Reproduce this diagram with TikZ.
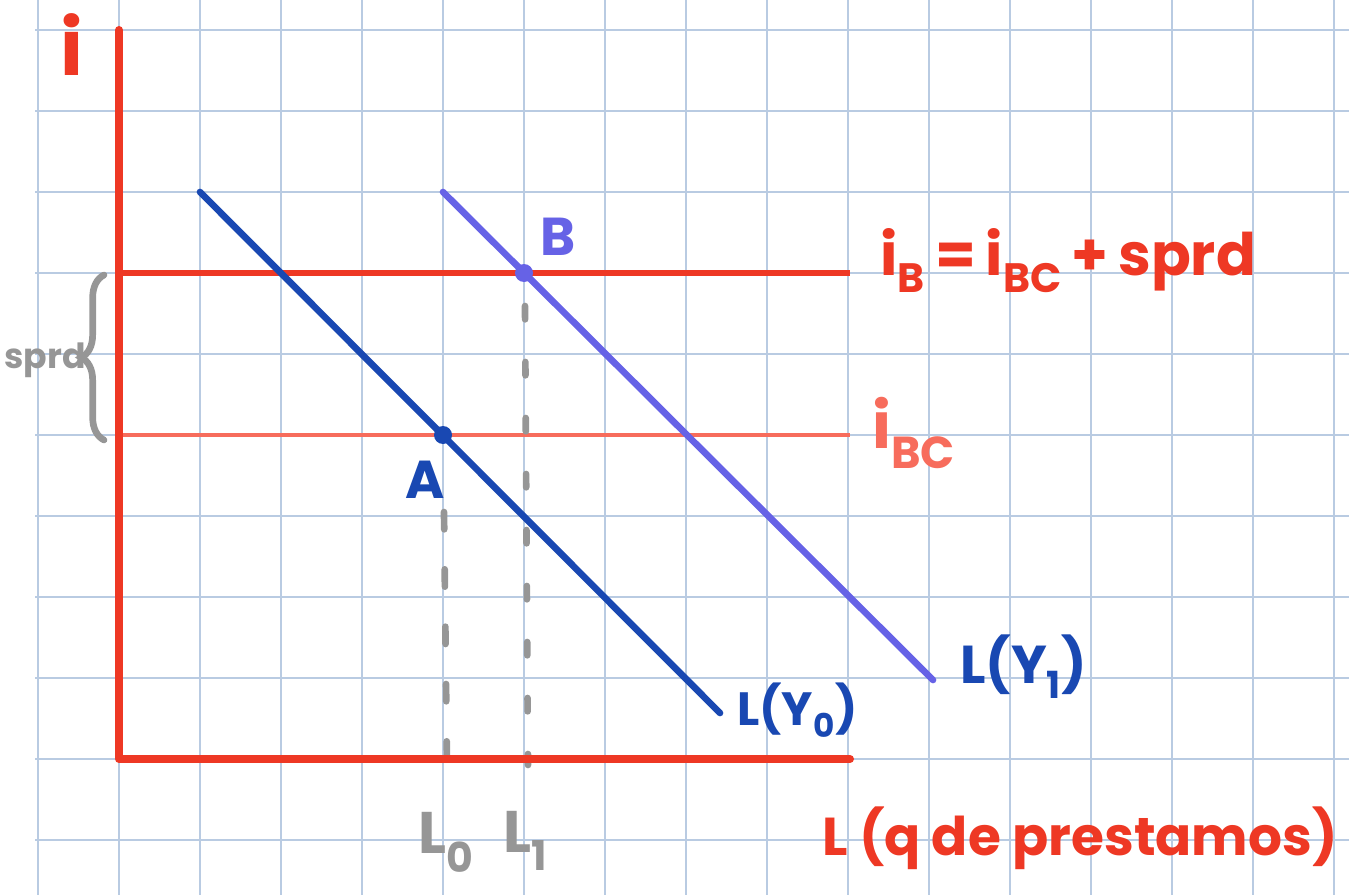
\documentclass[tikz,border=0pt]{standalone}
\usepackage{fontspec}
\setmainfont{Poppins}
\usetikzlibrary{decorations.pathreplacing}

\begin{document}
\begin{tikzpicture}[x=0.75pt,y=0.75pt,yscale=-1,xscale=1,
  gridline/.style={color={rgb, 255:red, 185; green, 203; blue, 226 }, line width=1.1},
  axisline/.style={color={rgb, 255:red, 238; green, 56; blue, 36 }, line width=6, line cap=round, line join=round},
  rateline/.style={color={rgb, 255:red, 238; green, 56; blue, 36 }, line width=5},
  baseline/.style={color={rgb, 255:red, 247; green, 108; blue, 92 }, line width=2.6},
  demandold/.style={color={rgb, 255:red, 25; green, 72; blue, 178 }, line width=5, line cap=round},
  demandnew/.style={color={rgb, 255:red, 102; green, 98; blue, 230 }, line width=5, line cap=round},
  guideline/.style={color={rgb, 255:red, 150; green, 150; blue, 150 }, line width=5, line cap=round},
  redtxt/.style={color={rgb, 255:red, 238; green, 56; blue, 36 }},
  bluetxt/.style={color={rgb, 255:red, 25; green, 72; blue, 178 }},
  graytxt/.style={color={rgb, 255:red, 150; green, 150; blue, 150 }}
  ]
\useasboundingbox (0,0) rectangle (1349,895);

%Shape: Grid
\foreach \gx in {38,119,...,1334} \draw [gridline] (\gx,0) -- (\gx,895);
\foreach \gy in {30,111,...,840} \draw [gridline] (35,\gy) -- (1349,\gy);

%Coordinates
\coordinate (O) at (119,759);
\coordinate (yTop) at (119,30);
\coordinate (xEnd) at (850,759);
\coordinate (iBl) at (119,273);
\coordinate (iBr) at (850,273);
\coordinate (iBCl) at (119,435);
\coordinate (iBCr) at (850,435);
\coordinate (Y0a) at (200,192);
\coordinate (Y0b) at (720,713);
\coordinate (Y1a) at (443,192);
\coordinate (Y1b) at (933,680);
\coordinate (A) at (443,435);
\coordinate (B) at (524,273);
\coordinate (L0top) at (444,512);
\coordinate (L0bot) at (447,765);
\coordinate (L1top) at (525,306);
\coordinate (L1bot) at (528,765);
\coordinate (brTop) at (104,275);
\coordinate (brBot) at (104,440);

%Straight Lines
\draw [baseline] (iBCl) -- (iBCr);
%Straight Lines
\draw [rateline] (iBl) -- (iBr);
%Straight Lines
\draw [demandold] (Y0a) -- (Y0b);
%Straight Lines
\draw [demandnew] (Y1a) -- (Y1b);
%Dashed Lines
\draw [guideline, dash pattern=on 13pt off 30pt] (L0top) -- (L0bot);
\draw [guideline, dash pattern=on 10pt off 32pt] (L1top) -- (L1bot);
%Axes
\draw [axisline] (yTop) -- (O) -- (xEnd);
%Brace
\draw [guideline, decorate, decoration={brace, amplitude=17pt}] (brBot) -- (brTop);
%Points
\fill [demandold] (A) circle [radius=9];
\fill [demandnew] (B) circle [radius=9];

% Text Node
\node (lblI) at (72,45) [redtxt, font=\bfseries\fontsize{58}{60}\selectfont] {i};
% Text Node
\node (lblIB) at (880,275) [redtxt, anchor=base west, inner sep=0, font=\bfseries\fontsize{44}{48}\selectfont] {i\textsubscript{B}\,=\,i\textsubscript{BC}\,+\,sprd};
% Text Node
\node (lblIBC) at (872,448) [anchor=base west, inner sep=0, color={rgb, 255:red, 247; green, 108; blue, 92 }, font=\bfseries\fontsize{48}{52}\selectfont] {i\textsubscript{BC}};
% Text Node
\node (lblSprd) at (45,360) [graytxt, font=\bfseries\fontsize{26}{28}\selectfont] {sprd};
% Text Node
\node (lblA) at (425,480) [bluetxt, font=\bfseries\fontsize{40}{44}\selectfont] {A};
% Text Node
\node (lblB) at (558,237) [font=\bfseries\fontsize{40}{44}\selectfont, color={rgb, 255:red, 102; green, 98; blue, 230 }] {B};
% Text Node
\node (lblY0) at (737,725) [bluetxt, anchor=base west, inner sep=0, font=\bfseries\fontsize{35}{40}\selectfont] {L(Y\textsubscript{0})};
% Text Node
\node (lblY1) at (960,683) [bluetxt, anchor=base west, inner sep=0, font=\bfseries\fontsize{40}{44}\selectfont] {L(Y\textsubscript{1})};
% Text Node
\node (lblL0) at (418,853) [graytxt, anchor=base west, inner sep=0, font=\bfseries\fontsize{44}{48}\selectfont] {L\textsubscript{0}};
% Text Node
\node (lblL1) at (503,852) [graytxt, anchor=base west, inner sep=0, font=\bfseries\fontsize{44}{48}\selectfont] {L\textsubscript{1}};
% Text Node
\node (lblL) at (822,855) [redtxt, anchor=base west, inner sep=0, font=\bfseries\fontsize{40}{44}\selectfont] {L (q de prestamos)};

\end{tikzpicture}
\end{document}
